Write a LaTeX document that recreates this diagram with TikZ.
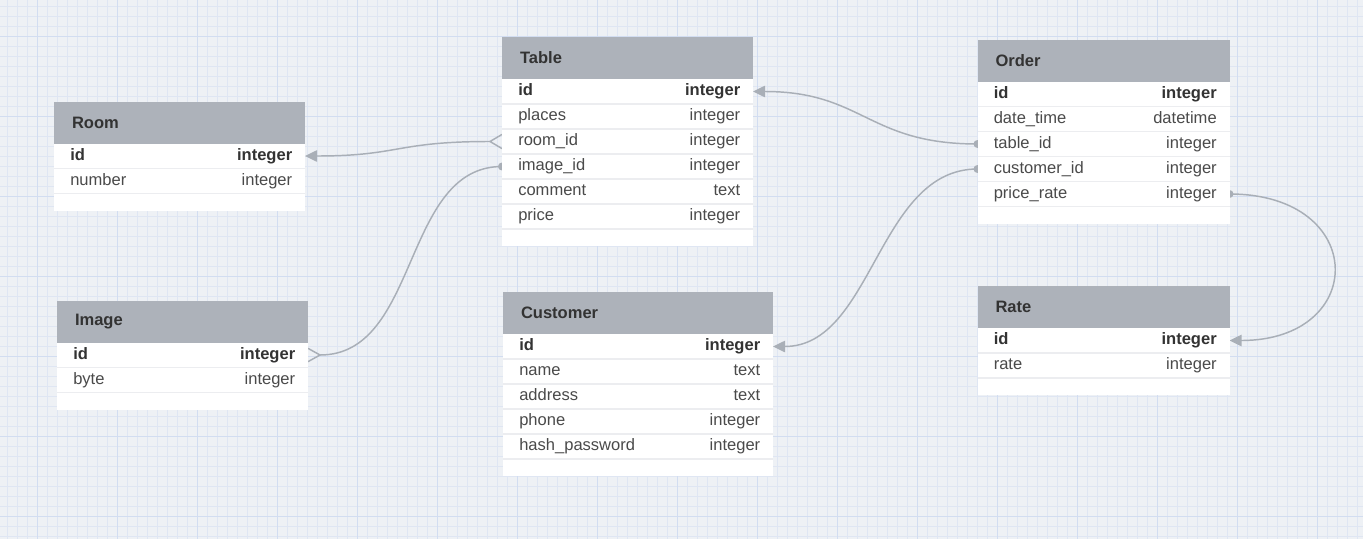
\documentclass[tikz,border=0pt]{standalone}
\usepackage{fontspec}
\setmainfont{Liberation Sans}
\usetikzlibrary{positioning,arrows.meta}
\pgfdeclarelayer{grid}
\pgfdeclarelayer{links}
\pgfsetlayers{grid,links,main}

\definecolor{paper}{HTML}{EEF1F5}
\definecolor{minorline}{HTML}{DFE6F3}
\definecolor{majorline}{HTML}{D2DDF1}
\definecolor{headgrey}{HTML}{ADB2BA}
\definecolor{linkgrey}{HTML}{A9AFB7}
\definecolor{sepgrey}{HTML}{ECEDF0}
\definecolor{fieldtext}{HTML}{4A4A4A}
\definecolor{titletext}{HTML}{333333}

% one entity: name, x, y, width (px), rows, title, other rows key/field/type
\newcommand{\entity}[7]{%
  \fill[white] (#2,#3) rectangle ++(#4,{42+25*#5+17});
  \node[head, minimum width=#4*0.75pt] (#1) at (#2,#3) {};
  \node[title] at ([xshift=13.3pt]#1.west) {#6};
  \node[field row, minimum width=#4*0.75pt, below=0pt of #1] (#1-id) {};
  \node[key] at ([xshift=12pt,yshift=-0.5pt]#1-id.west) {id};
  \node[key, anchor=mid east] at ([xshift=-9.4pt,yshift=-0.5pt]#1-id.east) {integer};
  \draw[sep] (#1-id.south west) -- (#1-id.south east);
  \foreach \k/\f/\t [remember=\k as \prev (initially id)] in {#7} {
    \node[field row, minimum width=#4*0.75pt, below=0pt of #1-\prev] (#1-\k) {};
    \node[fname] at ([xshift=12pt,yshift=-0.5pt]#1-\k.west) {\f};
    \node[ftype] at ([xshift=-9.4pt,yshift=-0.5pt]#1-\k.east) {\t};
    \draw[sep] (#1-\k.south west) -- (#1-\k.south east);
  }%
}

\begin{document}
\begin{tikzpicture}[x=0.75pt,y=-0.75pt]
    \tikzset{
    head/.style={rectangle, anchor=north west, fill=headgrey, minimum height=31.5pt, inner sep=0pt, outer sep=0pt},
    field row/.style={rectangle, minimum height=18.75pt, inner sep=0pt, outer sep=0pt},
    title/.style={anchor=west, inner sep=0pt, text=titletext, font=\fontsize{12.4}{15}\selectfont\bfseries},
    key/.style={anchor=mid west, inner sep=0pt, text=titletext, font=\fontsize{12.4}{15}\selectfont\bfseries},
    fname/.style={anchor=mid west, inner sep=0pt, text=fieldtext, font=\fontsize{12.4}{15}\selectfont},
    ftype/.style={anchor=mid east, inner sep=0pt, text=fieldtext, font=\fontsize{12.4}{15}\selectfont},
    sep/.style={draw=sepgrey, line width=0.9pt},
    minor/.style={draw=minorline, line width=0.5pt},
    major/.style={draw=majorline, line width=0.6pt},
    link/.style={draw=linkgrey, line width=1.1pt},
    pk/.style={-{Triangle[length=9pt,width=8.5pt]}},
    fk/.style={fill=linkgrey},
    }
    \useasboundingbox (0,0) rectangle (1363,539);

    % background grid
    \begin{pgfonlayer}{grid}
    \fill[paper] (0,0) rectangle (1363,539);
    \foreach \x in {7.3,17.3,...,1363} \draw[minor] (\x,0) -- (\x,539);
    \foreach \y in {6,16,...,539} \draw[minor] (0,\y) -- (1363,\y);
    \foreach \x in {37.3,117.3,...,1363} \draw[major] (\x,0) -- (\x,539);
    \foreach \y in {36,116,...,539} \draw[major] (0,\y) -- (1363,\y);
    \end{pgfonlayer}

    % tables
    \entity{room}{54}{101.5}{251}{2}{Room}{number/number/integer}
    \entity{table}{502}{37}{251}{6}{Table}{places/places/integer, roomid/room\_id/integer, imageid/image\_id/integer, comment/comment/text, price/price/integer}
    \entity{image}{57}{300.5}{251}{2}{Image}{byte/byte/integer}
    \entity{customer}{503}{292}{270}{5}{Customer}{name/name/text, address/address/text, phone/phone/integer, hash/hash\_password/integer}
    \entity{order}{977.5}{39.5}{252}{5}{Order}{datetime/date\_time/datetime, tableid/table\_id/integer, customerid/customer\_id/integer, pricerate/price\_rate/integer}
    \entity{rate}{977.5}{286}{252}{2}{Rate}{rate/rate/integer}

    % relations
    \begin{pgfonlayer}{links}
    \coordinate (roomfoot) at ([xshift=-9pt]table-roomid.west);
    \coordinate (imagefoot) at ([xshift=9pt]image-id.east);
    \draw[link, pk] (roomfoot) .. controls +(-95,0) and +(95,0) .. (room-id.east);
    \draw[link] ([yshift=5.3pt]table-roomid.west) -- (roomfoot) -- ([yshift=-5.3pt]table-roomid.west);
    \draw[link] (imagefoot) .. controls +(100,0) and +(-100,0) .. (table-imageid.west);
    \draw[link] ([yshift=5pt]image-id.east) -- (imagefoot) -- ([yshift=-5pt]image-id.east);
    \fill[fk] (table-imageid.west) circle (3pt);
    \draw[link, pk] (order-tableid.west) .. controls +(-110,0) and +(110,0) .. (table-id.east);
    \fill[fk] (order-tableid.west) circle (3pt);
    \draw[link, pk] (order-customerid.west) .. controls +(-100,0) and +(100,0) .. (customer-id.east);
    \fill[fk] (order-customerid.west) circle (3pt);
    \draw[link, pk] (order-pricerate.east) .. controls +(139,0) and +(139,0) .. (rate-id.east);
    \fill[fk] (order-pricerate.east) circle (3pt);
    \end{pgfonlayer}
\end{tikzpicture}
\end{document}
